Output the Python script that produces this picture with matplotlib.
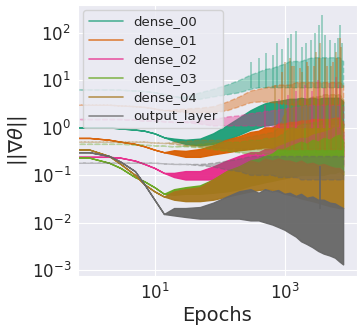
import numpy as np
import matplotlib
matplotlib.use("Agg")
import matplotlib.pyplot as plt
import seaborn as sns
from matplotlib.lines import Line2D

sns.set_style("darkgrid")

epochs = [0, 1, 2, 3, 5, 7, 10, 14, 20, 30, 50, 80, 130, 200, 300, 400, 500, 650,
          800, 1000, 1200, 1500, 1800, 2200, 2700, 3300, 4000, 5000, 6000, 7000, 8000]

layers = ["dense_00", "dense_01", "dense_02", "dense_03", "dense_04", "output_layer"]
colors = ["#1b9e77", "#d95f02", "#e7298a", "#66a61e", "#a6761d", "#666666"]

# bias gradients (solid), lower / upper edge of the noisy band
d0_lo = [1.0, 1.0, 1.0, 0.95, 0.9, 0.85, 0.75, 0.62, 0.52, 0.45, 0.42, 0.45, 0.55, 0.7, 0.9, 1.0, 1.1, 1.15, 1.2, 1.2, 1.2, 1.2, 1.2, 1.2, 1.2, 1.2, 1.2, 1.2, 1.2, 1.2, 1.0]
d0_hi = [1.0, 1.0, 1.0, 0.95, 0.9, 0.85, 0.75, 0.62, 0.58, 0.55, 0.58, 0.75, 1.1, 1.6, 2.3, 2.8, 3.2, 3.5, 3.6, 3.8, 4.0, 4.0, 4.2, 4.0, 4.2, 4.0, 4.2, 4.2, 4.2, 4.2, 3.5]
d1_lo = [0.6, 0.6, 0.55, 0.5, 0.45, 0.4, 0.34, 0.3, 0.27, 0.24, 0.24, 0.27, 0.3, 0.33, 0.35, 0.37, 0.38, 0.37, 0.35, 0.33, 0.3, 0.29, 0.28, 0.27, 0.27, 0.26, 0.26, 0.25, 0.25, 0.25, 0.25]
d1_hi = [0.6, 0.6, 0.55, 0.5, 0.45, 0.4, 0.34, 0.3, 0.33, 0.32, 0.35, 0.42, 0.55, 0.65, 0.8, 0.85, 1.0, 1.0, 1.2, 1.2, 1.3, 1.3, 1.4, 1.4, 1.5, 1.5, 1.5, 1.5, 1.6, 1.6, 1.2]
d2_lo = [0.24, 0.24, 0.24, 0.23, 0.2, 0.17, 0.14, 0.11, 0.09, 0.08, 0.08, 0.08, 0.09, 0.1, 0.11, 0.115, 0.12, 0.12, 0.12, 0.13, 0.13, 0.14, 0.14, 0.15, 0.15, 0.15, 0.15, 0.15, 0.15, 0.15, 0.15]
d2_hi = [0.24, 0.24, 0.24, 0.23, 0.2, 0.17, 0.14, 0.11, 0.11, 0.12, 0.12, 0.15, 0.2, 0.25, 0.3, 0.3, 0.35, 0.35, 0.4, 0.45, 0.5, 0.55, 0.6, 0.6, 0.7, 0.75, 0.8, 0.9, 1.0, 1.0, 0.8]
d3_lo = [0.23, 0.23, 0.18, 0.14, 0.09, 0.073, 0.055, 0.04, 0.038, 0.04, 0.04, 0.042, 0.045, 0.05, 0.06, 0.065, 0.07, 0.075, 0.08, 0.085, 0.09, 0.095, 0.1, 0.1, 0.1, 0.1, 0.1, 0.11, 0.11, 0.12, 0.1]
d3_hi = [0.23, 0.23, 0.18, 0.14, 0.09, 0.073, 0.055, 0.04, 0.05, 0.055, 0.06, 0.08, 0.12, 0.15, 0.2, 0.22, 0.25, 0.28, 0.35, 0.35, 0.4, 0.45, 0.5, 0.45, 0.55, 0.5, 0.6, 0.55, 0.65, 0.7, 0.5]
d4_lo = [0.34, 0.34, 0.25, 0.17, 0.1, 0.063, 0.045, 0.035, 0.03, 0.028, 0.028, 0.03, 0.035, 0.04, 0.045, 0.048, 0.05, 0.048, 0.045, 0.04, 0.038, 0.035, 0.032, 0.03, 0.028, 0.026, 0.024, 0.022, 0.021, 0.02, 0.02]
d4_hi = [0.34, 0.34, 0.25, 0.17, 0.1, 0.063, 0.045, 0.035, 0.045, 0.05, 0.055, 0.08, 0.12, 0.15, 0.2, 0.18, 0.22, 0.2, 0.22, 0.2, 0.2, 0.18, 0.2, 0.17, 0.18, 0.16, 0.17, 0.15, 0.14, 0.14, 0.12]
out_lo = [0.3, 0.3, 0.25, 0.19, 0.12, 0.063, 0.03, 0.015, 0.014, 0.013, 0.012, 0.012, 0.012, 0.012, 0.011, 0.011, 0.01, 0.009, 0.008, 0.007, 0.006, 0.005, 0.004, 0.0035, 0.003, 0.0025, 0.0022, 0.002, 0.0018, 0.0015, 0.0013]
out_hi = [0.3, 0.3, 0.25, 0.19, 0.12, 0.063, 0.03, 0.015, 0.02, 0.02, 0.021, 0.026, 0.035, 0.045, 0.05, 0.042, 0.05, 0.045, 0.048, 0.04, 0.042, 0.036, 0.04, 0.033, 0.035, 0.03, 0.03, 0.026, 0.025, 0.022, 0.02]

# kernel gradients (faint, dashed): dense body of the band
k0_lo = [6.3, 6.3, 6.3, 6.2, 6.0, 5.8, 5.5, 5.0, 4.5, 4.0, 4.0, 4.5, 5.0, 5.5, 6.5, 7.0, 7.0, 7.0, 7.0, 7.0, 7.0, 7.0, 7.0, 7.0, 7.0, 7.0, 7.0, 7.0, 7.0, 7.0, 7.0]
k0_hi = [6.3, 6.3, 6.3, 6.2, 6.0, 5.8, 5.5, 5.0, 4.5, 4.5, 5.5, 6.5, 8.0, 10.0, 13.0, 15.0, 17.0, 18.0, 20.0, 22.0, 25.0, 25.0, 25.0, 28.0, 30.0, 30.0, 30.0, 30.0, 30.0, 30.0, 25.0]
k1_lo = [3.0, 3.0, 3.0, 2.9, 2.8, 2.7, 2.5, 2.3, 2.2, 2.1, 2.1, 2.1, 2.3, 2.8, 3.4, 3.5, 3.5, 3.4, 3.3, 3.2, 3.0, 3.0, 3.0, 3.0, 3.0, 3.0, 3.0, 3.0, 3.0, 3.0, 3.0]
k1_hi = [3.0, 3.0, 3.0, 2.9, 2.8, 2.7, 2.5, 2.3, 2.4, 2.5, 2.6, 2.8, 3.5, 4.5, 6.0, 6.5, 7.0, 7.5, 8.0, 8.0, 8.0, 9.0, 9.0, 9.0, 9.0, 9.0, 9.0, 9.0, 9.0, 9.0, 8.0]
k2_lo = [1.5, 1.5, 1.5, 1.5, 1.45, 1.4, 1.4, 1.35, 1.3, 1.3, 1.2, 1.1, 1.1, 1.1, 1.1, 1.1, 1.1, 1.05, 1.0, 1.0, 1.0, 1.0, 1.0, 1.0, 1.0, 1.0, 1.0, 1.0, 1.0, 1.0, 1.0]
k2_hi = [1.5, 1.5, 1.5, 1.5, 1.45, 1.4, 1.4, 1.35, 1.3, 1.35, 1.4, 1.5, 1.7, 1.8, 2.0, 2.1, 2.2, 2.3, 2.4, 2.5, 2.6, 2.7, 2.8, 2.9, 3.0, 3.0, 3.0, 3.0, 3.0, 3.0, 2.8]
k3_lo = [0.45, 0.45, 0.45, 0.45, 0.44, 0.43, 0.42, 0.41, 0.4, 0.4, 0.38, 0.35, 0.32, 0.3, 0.28, 0.28, 0.28, 0.28, 0.28, 0.28, 0.3, 0.3, 0.3, 0.3, 0.3, 0.3, 0.3, 0.3, 0.3, 0.3, 0.3]
k3_hi = [0.45, 0.45, 0.45, 0.45, 0.44, 0.43, 0.42, 0.41, 0.4, 0.42, 0.45, 0.48, 0.5, 0.5, 0.55, 0.55, 0.6, 0.6, 0.65, 0.8, 1.0, 1.0, 1.2, 1.2, 1.3, 1.3, 1.5, 1.5, 1.5, 1.5, 1.2]
k4_lo = [0.5, 0.5, 0.5, 0.5, 0.5, 0.5, 0.48, 0.47, 0.45, 0.42, 0.4, 0.38, 0.36, 0.35, 0.35, 0.35, 0.35, 0.35, 0.35, 0.35, 0.35, 0.35, 0.35, 0.35, 0.35, 0.35, 0.35, 0.35, 0.35, 0.35, 0.35]
k4_hi = [0.5, 0.5, 0.5, 0.5, 0.5, 0.5, 0.48, 0.47, 0.5, 0.52, 0.55, 0.55, 0.55, 0.6, 0.65, 0.7, 0.75, 0.8, 1.0, 2.0, 3.0, 3.5, 4.0, 4.0, 4.5, 4.5, 5.0, 5.0, 5.0, 5.0, 4.0]
ko_lo = [0.18, 0.18, 0.18, 0.18, 0.18, 0.18, 0.18, 0.175, 0.17, 0.17, 0.16, 0.15, 0.13, 0.12, 0.1, 0.1, 0.1, 0.1, 0.09, 0.09, 0.09, 0.09, 0.08, 0.08, 0.08, 0.08, 0.08, 0.08, 0.08, 0.08, 0.08]
ko_hi = [0.18, 0.18, 0.18, 0.18, 0.18, 0.18, 0.18, 0.175, 0.17, 0.17, 0.17, 0.18, 0.2, 0.22, 0.25, 0.25, 0.25, 0.25, 0.25, 0.25, 0.25, 0.25, 0.25, 0.25, 0.25, 0.25, 0.25, 0.25, 0.25, 0.25, 0.25]

# tallest spikes sticking out of the bands (epoch, peak)
k0_sp_x = [300, 400, 520, 650, 750, 900, 1100, 1250, 1500, 1800, 2100, 2500, 2900, 3300, 3700, 4200, 5000, 5800, 6500, 7000, 7600]
k0_sp_y = [25, 30, 38, 35, 60, 45, 80, 95, 110, 50, 60, 70, 100, 150, 240, 90, 70, 60, 80, 150, 60]
k1_sp_x = [900, 1300, 1700, 2200, 2800, 3400, 4500, 5500, 6300, 7000]
k1_sp_y = [15, 20, 18, 25, 20, 30, 20, 25, 30, 80]
k2_sp_x = [500, 800, 1100, 1500, 2000, 2600, 3200, 4000, 5000, 6000, 7000]
k2_sp_y = [3, 4, 5, 6, 8, 6, 10, 7, 9, 12, 8]
k3_sp_x = [1000, 2000, 3000, 4500, 6000, 7500]
k3_sp_y = [2.5, 3, 4, 3, 5, 3]
k4_sp_x = [700, 1000, 1200, 1400, 1800, 2300, 3000, 3500, 4200, 5200, 6000, 7300]
k4_sp_y = [8, 25, 30, 20, 15, 20, 40, 60, 30, 20, 40, 50]
out_sp_x = [3500]
out_sp_y = [0.16]

bias = [(d0_lo, d0_hi), (d1_lo, d1_hi), (d2_lo, d2_hi), (d3_lo, d3_hi), (d4_lo, d4_hi), (out_lo, out_hi)]
kern = [(k0_lo, k0_hi), (k1_lo, k1_hi), (k2_lo, k2_hi), (k3_lo, k3_hi), (k4_lo, k4_hi), (ko_lo, ko_hi)]
spikes = [(k0_sp_x, k0_sp_y), (k1_sp_x, k1_sp_y), (k2_sp_x, k2_sp_y),
          (k3_sp_x, k3_sp_y), (k4_sp_x, k4_sp_y), ([], [])]

fig = plt.figure(figsize=(3.62, 3.29), dpi=100)
ax = fig.add_axes([0.2155, 0.161, 0.7705, 0.824])

# per layer: faint kernel band, then the solid bias band
for i in range(len(layers)):
    klo, khi = kern[i]
    ax.fill_between(epochs, klo, khi, facecolor=colors[i], edgecolor=colors[i],
                    linewidth=1.0, linestyle="--", alpha=0.38)
    sx, sy = spikes[i]
    if sx:
        ax.vlines(sx, klo[-1], sy, color=colors[i], linewidth=1.2, alpha=0.45)
    blo, bhi = bias[i]
    ax.fill_between(epochs, blo, bhi, facecolor=colors[i], edgecolor=colors[i],
                    linewidth=1.0, alpha=0.95)

ax.vlines(out_sp_x, out_hi[-1], out_sp_y, color=colors[5], linewidth=1.2)

ax.set_xscale("log")
ax.set_yscale("log")
ax.set_xlim(10 ** -0.185, 10 ** 4.108)
ax.set_ylim(10 ** -3.12, 10 ** 2.59)
ax.set_xticks([10, 1000])
ax.set_yticks([1e-3, 1e-2, 1e-1, 1, 10, 100])
ax.minorticks_off()
ax.tick_params(labelsize=12, length=0, pad=5)

ax.set_xlabel("Epochs", fontsize=14, labelpad=2)
ax.set_ylabel(r"$||\nabla\theta||$", fontsize=14, labelpad=2)

handles = [Line2D([0], [0], color=c, lw=1.2, alpha=0.75) for c in colors]
ax.legend(handles, layers, loc="upper left", fontsize=9.5, framealpha=0.8,
          handlelength=2.6, borderaxespad=0.4, labelspacing=0.45)

fig.savefig("out.png", dpi=100)
